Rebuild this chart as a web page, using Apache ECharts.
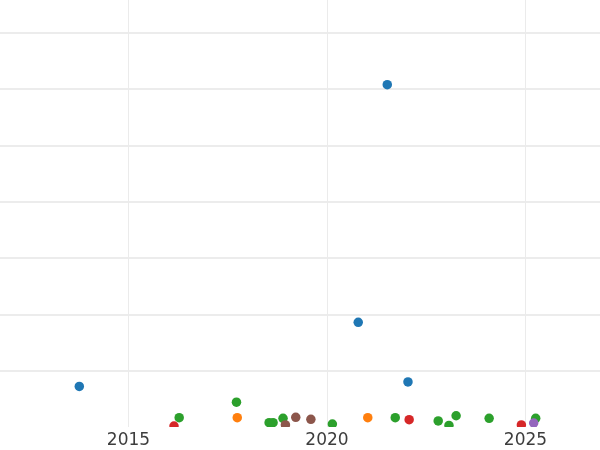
<!DOCTYPE html>
<html>
<head>
<meta charset="utf-8">
<script src="https://cdn.jsdelivr.net/npm/echarts@6/dist/echarts.min.js"></script>
<style>
html,body{margin:0;padding:0;background:#fff}
#wrap{position:relative;width:600px;height:450px;overflow:hidden;background:#fff}
#clip{position:absolute;left:0;top:0;width:600px;height:427px;overflow:hidden}
.c{position:absolute;left:-73px;top:-24px;width:800px;height:474px}
</style>
</head>
<body>
<div id="wrap">
  <div id="axes" class="c"></div>
  <div id="clip"><div id="pts" class="c"></div></div>
</div>
<script>
// Data: [decimal year, value]
const blueSeries   = [[2013.79, 0.72], [2021.53, 6.08], [2020.80, 1.86], [2022.05, 0.80]];
const orangeSeries = [[2017.76, 0.165], [2021.04, 0.165]];
const greenSeries  = [[2016.30, 0.165], [2017.74, 0.44], [2018.56, 0.076], [2018.66, 0.076], [2018.91, 0.155],
                      [2020.15, 0.053], [2021.73, 0.165], [2022.81, 0.107], [2023.08, 0.027], [2023.26, 0.20],
                      [2024.09, 0.155], [2025.26, 0.155]];
const redSeries    = [[2016.17, 0.018], [2022.08, 0.13], [2024.90, 0.036]];
const purpleSeries = [[2025.21, 0.071]];
const brownSeries  = [[2018.97, 0.036], [2019.23, 0.172], [2019.61, 0.137]];
const xTicks = [2015, 2020, 2025];

const colors = {blue:'#1f77b4', orange:'#ff7f0e', green:'#2ca02c', red:'#d62728', purple:'#9467bd', brown:'#8c564b'};
const groups = [
  ['blue', blueSeries], ['orange', orangeSeries], ['green', greenSeries],
  ['red', redSeries], ['purple', purpleSeries], ['brown', brownSeries]
];

function baseOption(showAxes) {
  return {
    animation: false,
    grid: {left: 1.5, right: 2.7, top: 0.6, bottom: 23, containLabel: false},
    xAxis: {
      type: 'value', min: 2010, max: 2030, interval: 5,
      axisLine: {show: false}, axisTick: {show: false},
      axisLabel: {
        show: showAxes,
        fontFamily: 'DejaVu Sans', fontSize: 17, color: '#3d3d3d', margin: 5,
        formatter: v => xTicks.includes(v) ? String(v) : ''
      },
      splitLine: {show: showAxes, lineStyle: {color: '#ebebeb', width: 1}}
    },
    yAxis: {
      type: 'value', min: 0, max: 8, interval: 1,
      axisLine: {show: false}, axisTick: {show: false}, axisLabel: {show: false},
      splitLine: {show: showAxes, showMinLine: false, lineStyle: {color: '#e6e6e6', width: 1.5}}
    },
    series: []
  };
}

const axesChart = echarts.init(document.getElementById('axes'), null, {renderer:'canvas'});
const axesOpt = baseOption(true);
axesOpt.backgroundColor = '#ffffff';
axesChart.setOption(axesOpt);

const ptsChart = echarts.init(document.getElementById('pts'), null, {renderer:'canvas'});
const ptsOpt = baseOption(false);
ptsOpt.backgroundColor = 'transparent';
ptsOpt.series = groups.map(([name, data]) => ({
  type: 'scatter', name, data, symbol: 'circle', symbolSize: 9.5,
  itemStyle: {color: colors[name], opacity: 1}
}));
ptsChart.setOption(ptsOpt);
</script>
</body>
</html>
